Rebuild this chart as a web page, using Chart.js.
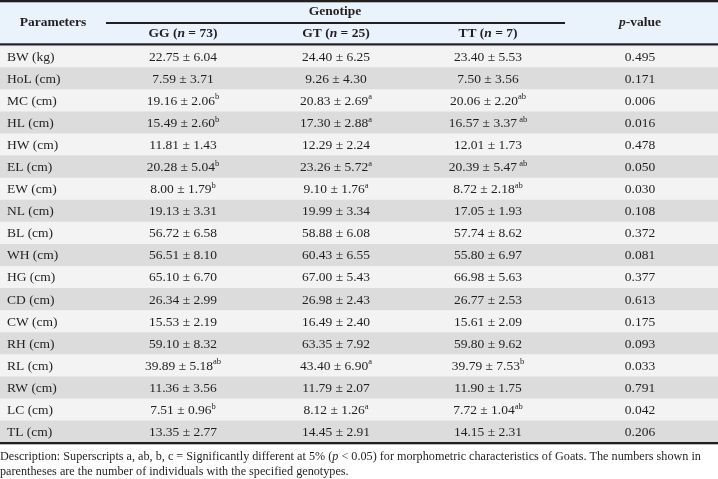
<!DOCTYPE html>
<html lang="en">
<head>
<meta charset="utf-8">
<title>Genotipe morphometric table</title>
<script src="https://cdn.jsdelivr.net/npm/chart.js@4.4.1/dist/chart.umd.min.js"></script>
<style>
  html, body { margin: 0; padding: 0; background: #ffffff; }
  #wrap { width: 718px; height: 479px; }
</style>
</head>
<body>
<div id="wrap"><canvas id="tableChart" width="718" height="479"></canvas></div>

<script type="text/javascript">

    const parameters = ["BW (kg)", "HoL (cm)", "MC (cm)", "HL (cm)", "HW (cm)", "EL (cm)", "EW (cm)", "NL (cm)", "BL (cm)",
        "WH (cm)", "HG (cm)", "CD (cm)", "CW (cm)", "RH (cm)", "RL (cm)", "RW (cm)", "LC (cm)", "TL (cm)"];

    const ggMean = [22.75, 7.59, 19.16, 15.49, 11.81, 20.28, 8.00, 19.13, 56.72, 56.51, 65.10, 26.34, 15.53, 59.10, 39.89, 11.36, 7.51, 13.35];
    const ggSd = [6.04, 3.71, 2.06, 2.60, 1.43, 5.04, 1.79, 3.31, 6.58, 8.10, 6.70, 2.99, 2.19, 8.32, 5.18, 3.56, 0.96, 2.77];
    const ggSup = ["", "", "b", "b", "", "b", "b", "", "", "", "", "", "", "", "ab", "", "b", ""];

    const gtMean = [24.40, 9.26, 20.83, 17.30, 12.29, 23.26, 9.10, 19.99, 58.88, 60.43, 67.00, 26.98, 16.49, 63.35, 43.40, 11.79, 8.12, 14.45];
    const gtSd = [6.25, 4.30, 2.69, 2.88, 2.24, 5.72, 1.76, 3.34, 6.08, 6.55, 5.43, 2.43, 2.40, 7.92, 6.90, 2.07, 1.26, 2.91];
    const gtSup = ["", "", "a", "a", "", "a", "a", "", "", "", "", "", "", "", "a", "", "a", ""];

    const ttMean = [23.40, 7.50, 20.06, 16.57, 12.01, 20.39, 8.72, 17.05, 57.74, 55.80, 66.98, 26.77, 15.61, 59.80, 39.79, 11.90, 7.72, 14.15];
    const ttSd = [5.53, 3.56, 2.20, 3.37, 1.73, 5.47, 2.18, 1.93, 8.62, 6.97, 5.63, 2.53, 2.09, 9.62, 7.53, 1.75, 1.04, 2.31];
    const ttSup = ["", "", "ab", " ab", "", " ab", "ab", "", "", "", "", "", "", "", "b", "", "ab", ""];

    const pValues = [0.495, 0.171, 0.006, 0.016, 0.478, 0.050, 0.030, 0.108, 0.372, 0.081, 0.377, 0.613, 0.175, 0.093, 0.033, 0.791, 0.042, 0.206];

    const groups = [
        {name: "GG", n: 73, mean: ggMean, sd: ggSd, sup: ggSup},
        {name: "GT", n: 25, mean: gtMean, sd: gtSd, sup: gtSup},
        {name: "TT", n: 7, mean: ttMean, sd: ttSd, sup: ttSup}
    ];

    // column centres in x-scale units (0..718)
    const colParam = 7;
    const colGroups = [183, 336, 488];
    const colP = 640;

    const SERIF = "'Liberation Serif', 'Times New Roman', serif";
    const INK = "#231f20";

    function font(size, bold, italic) {
        return (italic ? "italic " : "") + (bold ? "bold " : "") + size + "px " + SERIF;
    }

    // draws a list of [text, font, dy] runs centred (or left aligned) on x
    function drawRuns(ctx, runs, x, y, align) {
        let total = 0;
        runs.forEach(r => { ctx.font = r[1]; total += ctx.measureText(r[0]).width; });
        let cx = align === "left" ? x : x - total / 2;
        runs.forEach(r => {
            ctx.font = r[1];
            ctx.fillText(r[0], cx, y + (r[2] || 0));
            cx += ctx.measureText(r[0]).width;
        });
    }

    const tablePlugin = {
        id: "tableText",
        beforeDatasetsDraw(chart) {
            const ctx = chart.ctx;
            ctx.save();
            // header band
            ctx.fillStyle = "#eaf2fb";
            ctx.fillRect(0, 0, chart.width, chart.chartArea.top);
            ctx.restore();
        },
        afterDatasetsDraw(chart) {
            const ctx = chart.ctx;
            const area = chart.chartArea;
            const xs = chart.scales.x;
            const ys = chart.scales.y;
            ctx.save();
            ctx.fillStyle = INK;
            ctx.textBaseline = "middle";

            // rules
            ctx.fillRect(0, 0, chart.width, 2.3);
            ctx.fillRect(0, area.top - 2.2, chart.width, 2.2);
            ctx.fillRect(0, area.bottom - 1, chart.width, 2.3);
            ctx.fillRect(xs.getPixelForValue(106), 22, xs.getPixelForValue(565) - xs.getPixelForValue(106), 2);

            // header
            drawRuns(ctx, [["Genotipe", font(13.5, true)]], xs.getPixelForValue(335), 12);
            drawRuns(ctx, [["Parameters", font(13.5, true)]], xs.getPixelForValue(53), 23);
            drawRuns(ctx, [["p", font(13.5, true, true)], ["-value", font(13.5, true)]], xs.getPixelForValue(colP), 23);
            groups.forEach((g, k) => {
                drawRuns(ctx, [[g.name + " (", font(13.5, true)], ["n", font(13.5, true, true)], [" = " + g.n + ")", font(13.5, true)]],
                    xs.getPixelForValue(colGroups[k]), 34);
            });

            // body
            parameters.forEach((p, i) => {
                const y = ys.getPixelForValue(i) + 0.5;
                drawRuns(ctx, [[p, font(13.5)]], xs.getPixelForValue(colParam), y, "left");
                groups.forEach((g, k) => {
                    const runs = [[g.mean[i].toFixed(2) + " \u00b1 " + g.sd[i].toFixed(2), font(13.5)]];
                    if (g.sup[i]) runs.push([g.sup[i], font(8.5), -4]);
                    drawRuns(ctx, runs, xs.getPixelForValue(colGroups[k]), y);
                });
                drawRuns(ctx, [[pValues[i].toFixed(3), font(13.5)]], xs.getPixelForValue(colP), y);
            });

            // description below the table
            const d1 = area.bottom + 13.5;
            drawRuns(ctx, [
                ["Description: Superscripts a, ab, b, c = Significantly different at 5% (", font(12.2)],
                ["p", font(12.2, false, true)],
                [" < 0.05) for morphometric characteristics of Goats. The numbers shown in", font(12.2)]
            ], 0, d1, "left");
            drawRuns(ctx, [["parentheses are the number of individuals with the specified genotypes.", font(12.2)]], 0, d1 + 15.5, "left");
            ctx.restore();
        }
    };

    new Chart("tableChart", {
        type: "bar",
        data: {
            labels: parameters,
            datasets: [{
                data: parameters.map(() => [0, 718]),
                backgroundColor: parameters.map((p, i) => i % 2 === 0 ? "#f3f3f3" : "#dcdcdc"),
                barPercentage: 1,
                categoryPercentage: 1,
                borderWidth: 0
            }]
        },
        options: {
            indexAxis: "y",
            responsive: false,
            animation: false,
            layout: {padding: {top: 45.5, bottom: 36, left: 0, right: 0}},
            plugins: {legend: {display: false}, tooltip: {enabled: false}, title: {display: false}},
            scales: {
                x: {type: "linear", min: 0, max: 718, display: false},
                y: {type: "category", offset: true, display: false}
            }
        },
        plugins: [tablePlugin]
    });

</script>
</body>
</html>
